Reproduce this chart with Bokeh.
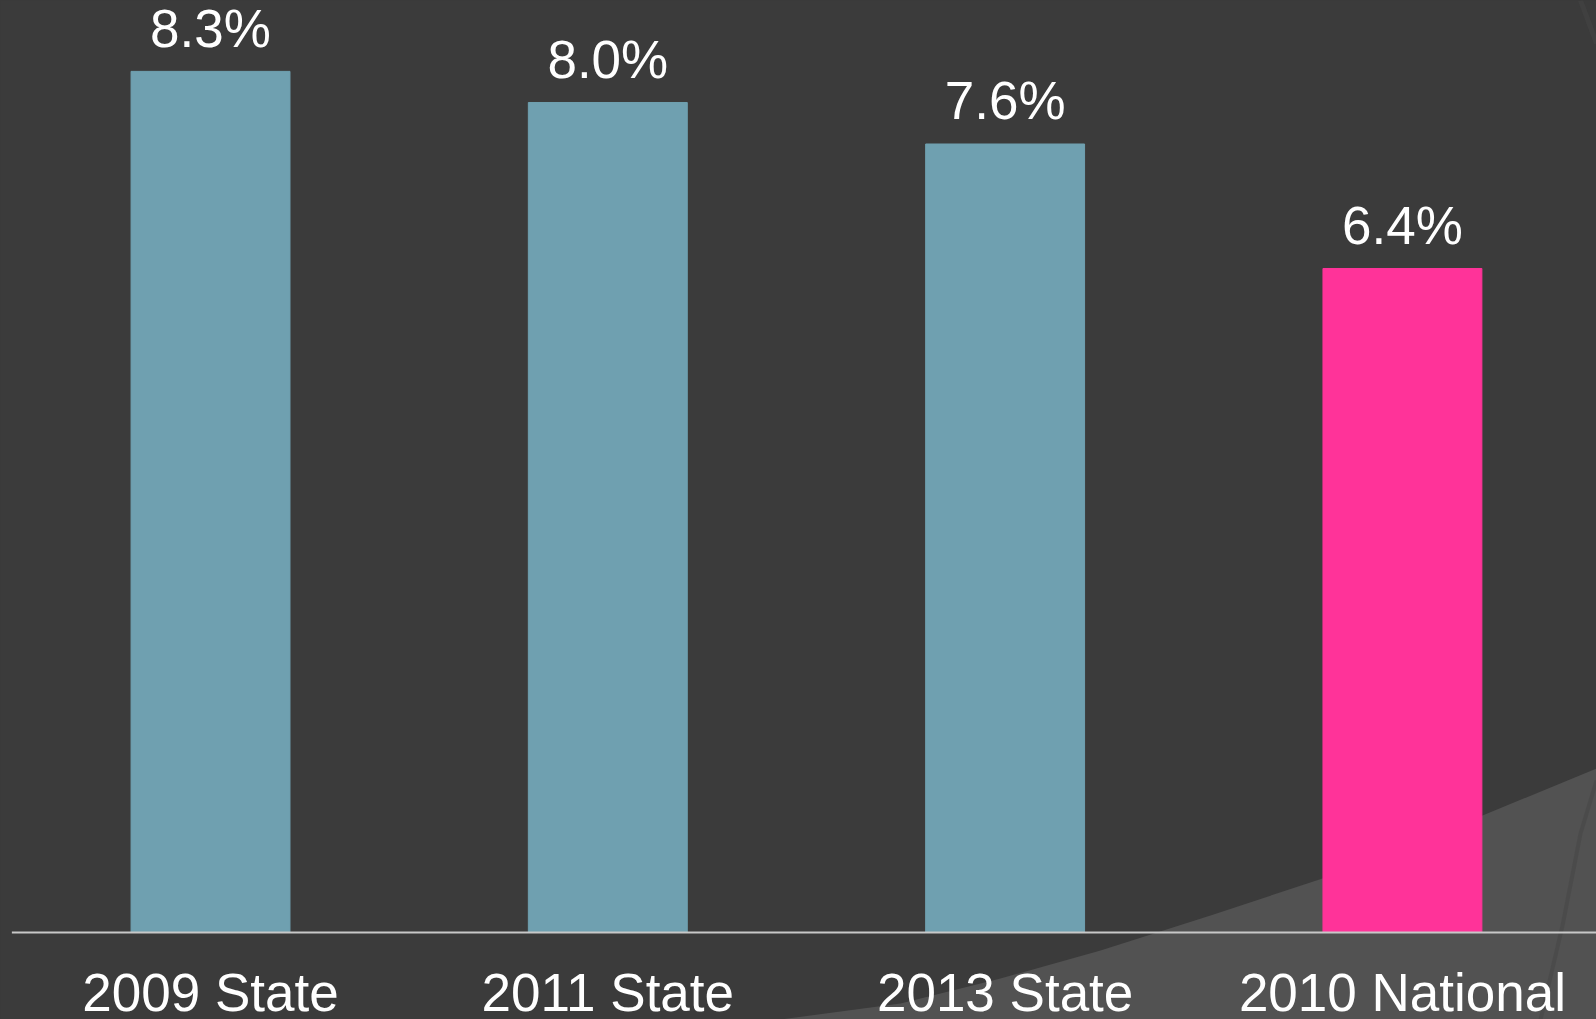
from bokeh.plotting import figure
from bokeh.models import Range1d, ColumnDataSource
from bokeh.core.properties import value
from bokeh.embed import file_html
from bokeh.resources import INLINE

# ---- data ----
categories = ["2009 State", "2011 State", "2013 State", "2010 National"]
rates = [8.3, 8.0, 7.6, 6.4]
rate_labels = ["8.3%", "8.0%", "7.6%", "6.4%"]
bar_colors = ["#6fa0b0", "#6fa0b0", "#6fa0b0", "#ff3399"]

# ---- background decoration (slide theme), in data units ----
deco_x = [1.4347, 1.7368, 1.9884, 2.2402, 2.5170, 2.7989, 3.2016, 3.4886, 3.4987, 1.4347]
deco_y = [-0.8386, -0.6843, -0.4434, -0.1735, 0.1639, 0.5205, 1.1277, 1.5807, -0.944, -0.944]
shadow_x = [3.4886, 3.4483, 3.4030, 3.3477]
shadow_y = [1.465, 0.9542, 0.0675, -0.8386]
arc_x = [3.4483, 3.4886]
arc_y = [8.983, 8.569]

BG = "#3b3b3b"
FONT = "Liberation Sans"

xpos = list(range(len(categories)))
src = ColumnDataSource(dict(x=xpos, top=rates, color=bar_colors,
                            label=rate_labels, cat=categories,
                            zero=[0] * len(categories)))

p = figure(width=1596, height=1019, output_backend="svg", toolbar_location=None,
           x_range=Range1d(-0.5286, 3.4885), y_range=Range1d(-0.8386, 8.983),
           x_axis_type=None, y_axis_type=None, min_border=0,
           background_fill_color=BG, border_fill_color=BG, outline_line_color=None)
p.grid.visible = False

p.patch(deco_x, deco_y, fill_color="#525252", line_color=None)
p.line(shadow_x, shadow_y, line_color="#474747", line_width=4, line_alpha=0.6)
p.line(arc_x, arc_y, line_color="#454545", line_width=5, line_alpha=0.6)

p.vbar(x="x", top="top", bottom=0, width=0.4, color="color", source=src)

# baseline (axis line)
p.segment(x0=[-0.5], y0=[0], x1=[len(categories) - 0.5], y1=[0],
          line_color="#c8c8c8", line_width=2)

# value labels
p.text(x="x", y="top", text="label", source=src, text_align="center",
       text_baseline="alphabetic", y_offset=-43, text_color="white",
       text_font=value(FONT), text_font_size="53px")

# category labels
p.text(x="x", y="zero", text="cat", source=src, text_align="center",
       text_baseline="alphabetic", y_offset=60, text_color="white",
       text_font=value(FONT), text_font_size="53px")

html = file_html(p, INLINE)
html = html.replace("<head>", "<head><style>body{background:#3b3b3b;}</style>", 1)
open("out.html", "w").write(html)
